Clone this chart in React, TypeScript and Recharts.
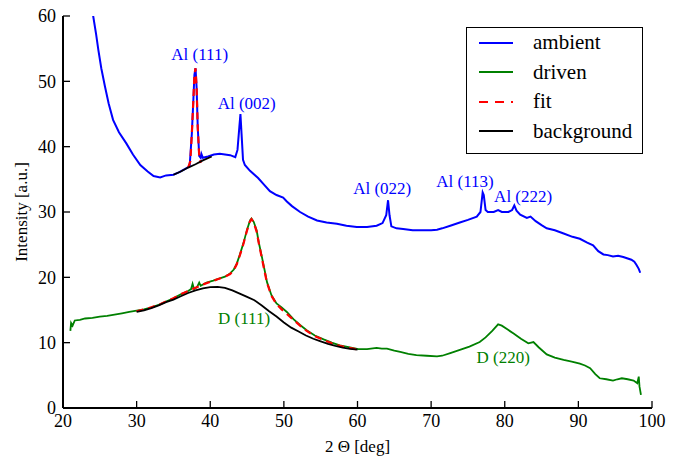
import React from "react";
import { LineChart, Line, XAxis, YAxis, Legend, ReferenceDot, Label } from "recharts";

const FONT = "'Liberation Serif', Tinos, 'Times New Roman', 'DejaVu Serif', serif";

// 2Θ [deg] vs intensity
const ambientX = [21.5, 22.5, 23.5, 24.1, 24.5, 24.8, 25.2, 25.7, 26.2, 26.8, 27.6, 28.6, 29.5, 30.5, 31.5, 32.3, 33.2, 34, 35, 35.8, 36.6, 37.2, 37.5, 37.7, 37.85, 38, 38.15, 38.3, 38.5, 38.7, 38.8, 39, 39.7, 40.5, 41.3, 42, 42.7, 43.4, 43.7, 43.95, 44.1, 44.25, 44.45, 44.7, 45.4, 46.5, 47.3, 48.1, 49, 49.9, 50.4, 51.1, 52.2, 53.3, 54.5, 55.8, 57.2, 58.5, 59.9, 61.3, 62.6, 63.4, 63.9, 64.15, 64.35, 64.6, 65.3, 66.2, 67.5, 68.9, 70, 70.8, 71.5, 72.6, 73.9, 75, 76.2, 76.7, 77, 77.15, 77.4, 77.7, 78.5, 79.1, 79.6, 80.5, 81, 81.3, 81.6, 82.1, 83, 83.5, 84.2, 85, 85.7, 86.8, 88, 89.2, 90.2, 91.2, 92, 92.7, 93.4, 94, 94.7, 95.4, 96.1, 97.2, 97.6, 97.9, 98.2, 98.4];
const ambientY = [92, 78, 66, 60, 57.2, 54.8, 52, 49.2, 46.6, 44.1, 42.2, 40.5, 38.8, 37.2, 36.2, 35.5, 35.3, 35.6, 35.7, 36.1, 36.6, 37, 42, 47, 51, 52, 49, 43, 38.6, 38.3, 38.9, 38.3, 38.5, 38.8, 38.9, 38.8, 38.7, 38.4, 39.5, 43, 45, 42, 38, 37.2, 36.3, 35.2, 34.2, 33.2, 32.6, 32.2, 31.6, 30.9, 30, 29.3, 28.7, 28.4, 28.2, 27.9, 27.7, 27.7, 27.9, 28.3, 29.5, 31.8, 29.5, 27.8, 27.5, 27.4, 27.2, 27.2, 27.2, 27.3, 27.5, 27.9, 28.4, 28.8, 29.3, 30, 33, 32.6, 30.3, 30, 30, 30.3, 30, 30, 30.3, 31, 30.2, 29.6, 29.1, 29.3, 28.6, 28, 27.5, 27.2, 26.7, 26.2, 25.9, 25.3, 24.9, 24, 23.5, 23.4, 23.2, 23.3, 23.1, 22.7, 22.4, 21.9, 21.3, 20.7];

const drivenX = [21, 21.1, 21.3, 21.6, 22.3, 23, 24, 25, 26, 27, 28, 29, 30, 31, 32, 33, 34, 35, 36, 37, 37.4, 37.6, 37.8, 38.2, 38.5, 38.7, 39.5, 40.4, 41.3, 42, 42.7, 43.2, 43.6, 44, 44.5, 45, 45.4, 45.6, 45.9, 46.3, 46.6, 47, 47.4, 47.7, 48.3, 49, 49.7, 50.4, 51.3, 52.2, 53.1, 54.2, 55.4, 56.5, 57.6, 58.8, 60.1, 61.3, 62.6, 63.3, 64, 65, 65.8, 66.9, 68, 69.4, 70.8, 71.5, 72.6, 73.9, 75.2, 76.6, 77.4, 78.3, 79.1, 79.6, 80.4, 81.2, 82.2, 83.2, 83.9, 84.6, 85.7, 86.8, 88, 89.1, 90.2, 90.9, 91.6, 92.3, 92.9, 93.8, 94.7, 95.3, 95.9, 96.7, 97.5, 98, 98.2, 98.3, 98.5];
const drivenY = [11.8, 13, 12.6, 13.4, 13.5, 13.7, 13.8, 14, 14.1, 14.3, 14.5, 14.7, 14.9, 15.1, 15.4, 15.8, 16.3, 16.8, 17.4, 17.9, 18.2, 19, 18.2, 18.5, 19.2, 18.7, 19.2, 19.5, 19.85, 20.1, 20.6, 21.2, 22.1, 23.4, 25.2, 27.3, 28.7, 29, 28.5, 27.2, 25.3, 23.2, 21, 19.3, 17.3, 16, 15.4, 14.7, 13.6, 12.7, 11.9, 11.1, 10.5, 10, 9.6, 9.3, 9, 9, 9.2, 9.1, 9.1, 8.8, 8.6, 8.3, 8.1, 8, 7.9, 8, 8.4, 8.9, 9.4, 10.1, 10.8, 11.8, 12.8, 12.6, 12, 11.4, 10.6, 9.9, 10.1, 9.3, 8.2, 7.7, 7.35, 7.1, 6.8, 6.5, 6.1, 5.2, 4.55, 4.4, 4.2, 4.4, 4.55, 4.4, 4.2, 3.8, 4.8, 3.3, 2];

const fitAmbientX = [37, 37.3, 37.5, 37.7, 37.85, 38, 38.15, 38.3, 38.5, 38.7];
const fitAmbientY = [36.8, 37.8, 42, 47, 51, 52, 49, 43, 38.6, 37.5];

const fitDrivenX = [30, 31, 32, 33, 34, 35, 36, 37, 38, 39, 40, 41, 42, 42.7, 43.2, 43.6, 44, 44.5, 45, 45.4, 45.6, 45.9, 46.3, 46.6, 47, 47.4, 47.7, 48.3, 49, 49.7, 50.4, 51.3, 52.2, 53.1, 54.2, 55.4, 56.5, 57.6, 58.8, 60.1];
const fitDrivenY = [14.8, 15.1, 15.4, 15.8, 16.3, 16.8, 17.4, 17.9, 18.4, 18.9, 19.3, 19.7, 20.1, 20.5, 21.1, 22, 23.3, 25.1, 27.2, 28.6, 28.9, 28.4, 27, 25.2, 23, 20.8, 19.2, 17.2, 15.9, 15.1, 14.4, 13.5, 12.6, 11.8, 11, 10.4, 9.9, 9.5, 9.2, 8.95];

const bgAmbientX = [35, 36, 37, 38, 39, 40.2];
const bgAmbientY = [35.7, 36.2, 36.8, 37.3, 37.9, 38.5];

const bgDrivenX = [30, 31, 32, 33, 34, 35, 36, 37, 38, 39, 40, 41, 42, 43, 44, 45, 46, 47, 48, 49, 50, 51, 52, 53, 54, 55, 56, 57, 58, 59, 60];
const bgDrivenY = [14.7, 14.95, 15.3, 15.7, 16.2, 16.6, 17.1, 17.6, 18, 18.3, 18.5, 18.55, 18.4, 18, 17.5, 17, 16.5, 15.7, 14.8, 14, 13.1, 12.3, 11.7, 11.1, 10.6, 10.2, 9.8, 9.5, 9.25, 9.05, 8.95];

const xTicks = [20, 30, 40, 50, 60, 70, 80, 90, 100];
const yTicks = [0, 10, 20, 30, 40, 50, 60];

const legendOrder = ["ambient", "driven", "fit", "background"];

const peakLabels = ["Al (111)", "Al (002)", "Al (022)", "Al (113)", "Al (222)"];
const peakX = [38.57, 44.95, 63.35, 74.6, 82.5];
const peakY = [54.2, 46.7, 33.7, 34.7, 32.5];

const dLabels = ["D (111)", "D (220)"];
const dX = [44.6, 79.8];
const dY = [13.8, 7.8];

const toPoints = (xs: number[], ys: number[]) => xs.map((x, i) => ({ x, y: ys[i] }));

const ambient = toPoints(ambientX, ambientY);
const driven = toPoints(drivenX, drivenY);
const fitAmbient = toPoints(fitAmbientX, fitAmbientY);
const fitDriven = toPoints(fitDrivenX, fitDrivenY);
const bgAmbient = toPoints(bgAmbientX, bgAmbientY);
const bgDriven = toPoints(bgDrivenX, bgDrivenY);

function LegendBox({ payload }: any) {
  const items = legendOrder
    .map((name) => (payload || []).find((p: any) => p.value === name))
    .filter(Boolean);
  return (
    <div
      style={{
        boxSizing: "border-box",
        width: 177,
        height: 127,
        border: "1.5px solid #000",
        background: "#fff",
        padding: "0 0 0 12px",
        fontFamily: FONT,
      }}
    >
      {items.map((p: any) => (
        <div key={p.value} style={{ display: "flex", alignItems: "center", height: 29.5 }}>
          <svg width={34} height={10}>
            <line
              x1={0}
              y1={5}
              x2={34}
              y2={5}
              stroke={p.color}
              strokeWidth={p.value === "background" ? 1.8 : 2}
              strokeDasharray={p.value === "fit" ? "9 7" : undefined}
            />
          </svg>
          <span style={{ marginLeft: 20, fontSize: 21, color: "#000", lineHeight: "21px" }}>{p.value}</span>
        </div>
      ))}
    </div>
  );
}

export default function App() {
  return (
    <div style={{ position: "absolute", left: 0, top: 0, width: 689, height: 456, background: "#fff", fontFamily: FONT }}>
      <LineChart width={689} height={456} margin={{ top: 16, right: 37, bottom: 0, left: 0 }} style={{ fontFamily: FONT }}>
        <XAxis
          dataKey="x"
          type="number"
          domain={[20, 100]}
          ticks={xTicks}
          allowDataOverflow
          height={48}
          tickSize={-7}
          tickMargin={13}
          axisLine={{ stroke: "#000", strokeWidth: 2 }}
          tickLine={{ stroke: "#000", strokeWidth: 1.3 }}
          tick={{ fill: "#000", fontSize: 18, fontFamily: FONT }}
        >
          <Label value="2 Θ [deg]" position="insideBottom" offset={4} fill="#000" fontSize={17} fontFamily={FONT} />
        </XAxis>
        <XAxis
          xAxisId="top"
          orientation="top"
          type="number"
          domain={[20, 100]}
          ticks={xTicks}
          height={0}
          tickSize={-7}
          tick={false}
          axisLine={{ stroke: "#000", strokeWidth: 2 }}
          tickLine={{ stroke: "#000", strokeWidth: 1.3 }}
        />
        <YAxis
          type="number"
          domain={[0, 60]}
          ticks={yTicks}
          allowDataOverflow
          width={63}
          tickSize={-7}
          tickMargin={14}
          axisLine={{ stroke: "#000", strokeWidth: 2 }}
          tickLine={{ stroke: "#000", strokeWidth: 1.3 }}
          tick={{ fill: "#000", fontSize: 18, fontFamily: FONT }}
        >
          <Label
            content={({ viewBox }: any) => {
              const cy = viewBox.y + viewBox.height / 2;
              return (
                <text
                  x={21}
                  y={cy}
                  transform={`rotate(-90, 21, ${cy})`}
                  textAnchor="middle"
                  dominantBaseline="central"
                  fill="#000"
                  fontSize={17}
                  fontFamily={FONT}
                >
                  Intensity [a.u.]
                </text>
              );
            }}
          />
        </YAxis>
        <YAxis
          yAxisId="right"
          orientation="right"
          type="number"
          domain={[0, 60]}
          ticks={yTicks}
          width={0}
          tickSize={-7}
          tick={false}
          axisLine={{ stroke: "#000", strokeWidth: 2 }}
          tickLine={{ stroke: "#000", strokeWidth: 1.3 }}
        />

        <Line data={ambient} dataKey="y" name="ambient" stroke="#0000ff" strokeWidth={2} dot={false} isAnimationActive={false} />
        <Line data={driven} dataKey="y" name="driven" stroke="#008000" strokeWidth={1.8} dot={false} isAnimationActive={false} />
        <Line data={fitAmbient} dataKey="y" name="fit" stroke="#ff0000" strokeWidth={2.2} strokeDasharray="7 5" dot={false} isAnimationActive={false} />
        <Line data={fitDriven} dataKey="y" name="fit" stroke="#ff0000" strokeWidth={2.2} strokeDasharray="7 5" dot={false} isAnimationActive={false} />
        <Line data={bgAmbient} dataKey="y" name="background" stroke="#000" strokeWidth={1.8} dot={false} isAnimationActive={false} />
        <Line data={bgDriven} dataKey="y" name="background" stroke="#000" strokeWidth={1.8} dot={false} isAnimationActive={false} />

        {peakLabels.map((t, i) => (
          <ReferenceDot
            key={t}
            x={peakX[i]}
            y={peakY[i]}
            r={0}
            stroke="none"
            fill="none"
            label={{ value: t, position: "center", fill: "#0000ff", fontSize: 17, fontFamily: FONT }}
          />
        ))}
        {dLabels.map((t, i) => (
          <ReferenceDot
            key={t}
            x={dX[i]}
            y={dY[i]}
            r={0}
            stroke="none"
            fill="none"
            label={{ value: t, position: "center", fill: "#008000", fontSize: 17, fontFamily: FONT }}
          />
        ))}

        <Legend
          layout="vertical"
          align="center"
          verticalAlign="middle"
          content={LegendBox}
          wrapperStyle={{ left: 466, top: 27, width: 177, height: 127 }}
        />
      </LineChart>
    </div>
  );
}
